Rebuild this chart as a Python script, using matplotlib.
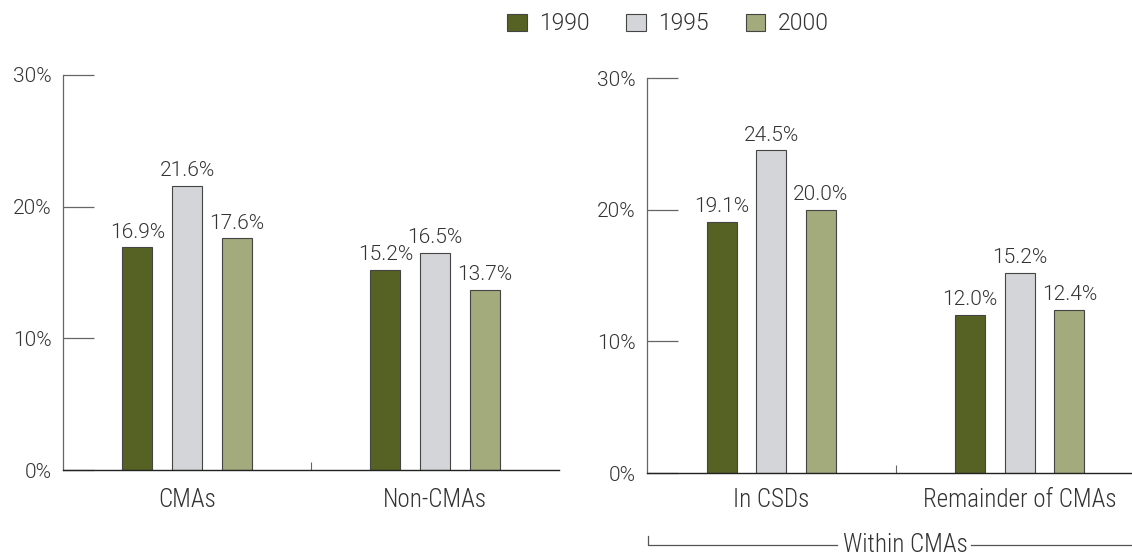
import matplotlib
matplotlib.use("Agg")
import matplotlib.pyplot as plt
import numpy as np
from matplotlib import font_manager

years = ["1990", "1995", "2000"]
left_categories = ["CMAs", "Non-CMAs"]
left_values = {"1990": [16.9, 15.2], "1995": [21.6, 16.5], "2000": [17.6, 13.7]}
right_categories = ["In CSDs", "Remainder of CMAs"]
right_values = {"1990": [19.1, 12.0], "1995": [24.5, 15.2], "2000": [20.0, 12.4]}
yticks = [0, 10, 20, 30]
ytick_labels = ["0%", "10%", "20%", "30%"]
bracket_label = "Within CMAs"

colors = {"1990": "#556223", "1995": "#d4d5d8", "2000": "#a3ab7c"}
edge = "#444444"
txt = "#333333"

names = {f.name for f in font_manager.fontManager.ttflist}
fam = "Roboto" if "Roboto" in names else "DejaVu Sans"
cfam = "Roboto Condensed" if "Roboto Condensed" in names else fam
plt.rcParams["font.family"] = [fam, "DejaVu Sans"]
plt.rcParams["font.weight"] = 300
FS = 15
CFS = 18

fig = plt.figure(figsize=(11.32, 5.58), dpi=100)
axL = fig.add_axes([0.05565, 0.1577, 0.4382, 0.7079])
axR = fig.add_axes([0.5716, 0.1523, 0.4390, 0.7079])

def draw(ax, cats, vals, pad):
    x = np.arange(len(cats))
    w = 0.121
    off = 0.2
    bars_all = []
    for i, y in enumerate(years):
        b = ax.bar(x + (i - 1) * off, vals[y], w, color=colors[y], edgecolor=edge,
                   linewidth=0.8, label=y, zorder=2)
        bars_all.append(b)
        for xi, v in zip(x + (i - 1) * off, vals[y]):
            ax.annotate(f"{v:.1f}%", (xi, v), xytext=(0, 4), textcoords="offset points",
                        ha="center", va="bottom", fontsize=FS, color=txt)
    ax.set_xlim(-0.5, len(cats) - 0.5)
    ax.set_ylim(0, 30)
    ax.set_yticks(yticks)
    ax.set_yticklabels(ytick_labels, fontsize=FS, color=txt)
    ax.tick_params(axis="y", direction="in", length=22, width=0.9, color="#666666", pad=8)
    ax.set_xticks(x)
    ax.set_xticklabels(cats, fontsize=CFS, color=txt, family=[cfam, "DejaVu Sans"])
    ax.tick_params(axis="x", length=0, pad=pad)
    ax.set_xticks([0.5], minor=True)
    ax.tick_params(axis="x", which="minor", direction="in", length=6, width=0.8, color="#666666")
    for s in ["top", "right"]:
        ax.spines[s].set_visible(False)
    ax.spines["left"].set_color("#666666")
    ax.spines["left"].set_linewidth(0.9)
    ax.spines["bottom"].set_color("#222222")
    ax.spines["bottom"].set_linewidth(1.0)
    return bars_all

bars = draw(axL, left_categories, left_values, 13)
draw(axR, right_categories, right_values, 11)

fig.legend(handles=bars, labels=years, loc="center", bbox_to_anchor=(668 / 1132, 1 - 24 / 558),
           ncol=3, frameon=False, fontsize=16.5, handlelength=0.85, handleheight=0.7,
           columnspacing=1.6, handletextpad=0.55, labelcolor=txt)

# bracket "Within CMAs"
yb = 1 - 545 / 558
x0 = 648 / 1132
x1 = 1.0
xc = 905 / 1132
t = fig.text(xc, yb, bracket_label, ha="center", va="center", fontsize=CFS, color=txt,
             family=[cfam, "DejaVu Sans"])
fig.canvas.draw()
bb = t.get_window_extent().transformed(fig.transFigure.inverted())
fig.lines.append(plt.Line2D([x0, x0, bb.x0 - 0.005], [yb + 0.016, yb, yb], transform=fig.transFigure,
                            color="#555555", lw=0.9))
fig.lines.append(plt.Line2D([bb.x1 + 0.003, x1], [yb, yb], transform=fig.transFigure,
                            color="#555555", lw=0.9))

fig.savefig("out.png", dpi=100)
